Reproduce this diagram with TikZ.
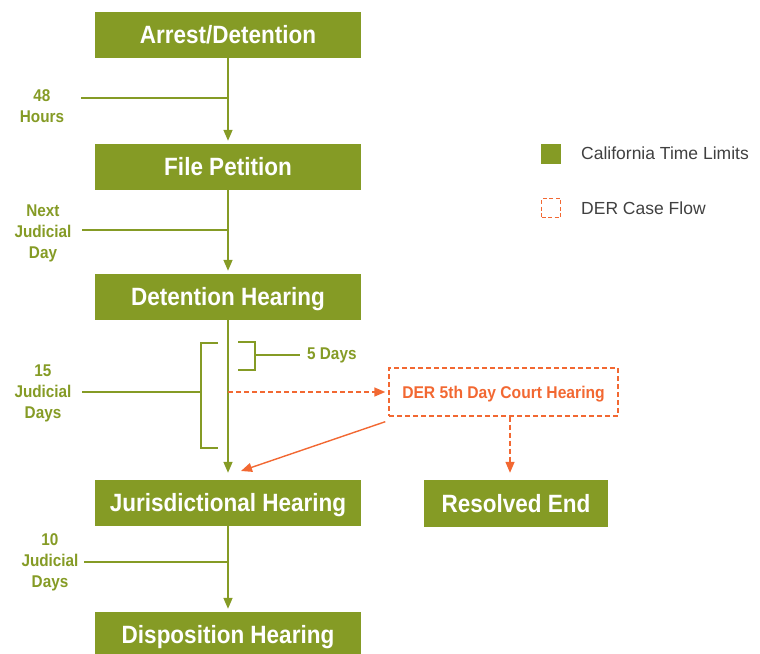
\documentclass[tikz,border=0pt]{standalone}
\usepackage{fontspec}
\setmainfont{Liberation Sans}
\newfontfamily\cnda{Liberation Sans}[FakeStretch=0.9]
\newfontfamily\cndb{Liberation Sans}[FakeStretch=0.92]
\usetikzlibrary{arrows.meta,calc}
\definecolor{dgreen}{RGB}{133,155,37}
\definecolor{dorange}{RGB}{242,104,50}
\definecolor{dgray}{RGB}{64,64,64}
\tikzset{
  gbox/.style={fill=dgreen, text=white, font=\cnda\bfseries\fontsize{25}{28}\selectfont, minimum width=266pt, minimum height=46pt, inner sep=0pt, text height=17.5pt, text depth=0pt},
  gline/.style={draw=dgreen, line width=1.5pt},
  garrow/.style={gline, -{Triangle[width=9pt,length=11pt]}},
  tlabel/.style={text=dgreen, font=\cnda\bfseries\fontsize{17}{21}\selectfont, align=center, inner sep=0pt},
  derbox/.style={draw=dorange, dash pattern=on 5pt off 3pt, line width=1.4pt, text=dorange, font=\cndb\bfseries\fontsize{17}{20}\selectfont, minimum width=229pt, minimum height=48pt, inner sep=0pt, text height=12pt, text depth=0pt},
  oarrow/.style={draw=dorange, line width=1.4pt, -{Triangle[width=9pt,length=11pt]}},
  odarrow/.style={oarrow, dash pattern=on 5pt off 3pt},
  legtext/.style={text=dgray, font=\fontsize{17.5}{20}\selectfont, anchor=west, inner sep=0pt}
}
\begin{document}
\begin{tikzpicture}[x=1pt,y=-1pt]
\useasboundingbox (0,0) rectangle (760,653);
\clip (0,0) rectangle (760,653);
% main boxes
\node[gbox] (arrest) at (228,35) {Arrest/Detention};
\node[gbox] (file) at (228,167) {File Petition};
\node[gbox] (det) at (228,297) {Detention Hearing};
\node[gbox] (jur) at (228,503) {Jurisdictional Hearing};
\node[gbox] (disp) at (228,635) {Disposition Hearing};
\node[gbox, minimum width=184pt, minimum height=47pt] (res) at (516,503.5) {Resolved End};
\node[derbox] (der) at (503.5,392) {DER 5th Day Court Hearing};
% main flow
\draw[garrow, shorten >=3pt] (arrest) -- (file);
\draw[garrow, shorten >=3pt] (file) -- (det);
\draw[garrow, shorten >=7pt] (det) -- (jur);
\draw[garrow, shorten >=3pt] (jur) -- (disp);
% time labels
\node[tlabel] (l48) at (42,106) {48\\Hours};
\coordinate (c48) at (81,98);
\draw[gline] (c48) -- (c48 -| arrest.south);
\node[tlabel] (lnext) at (43,233) {Next\\Judicial\\Day};
\coordinate (cnext) at (82,230);
\draw[gline] (cnext) -- (cnext -| file.south);
\node[tlabel] (l15) at (43,393) {15\\Judicial\\Days};
\coordinate (c15) at (82,392);
\coordinate (b15a) at (218,343);
\coordinate (b15b) at (201,343);
\coordinate (b15c) at (201,448);
\coordinate (b15d) at (218,448);
\draw[gline] (b15a) -- (b15b) -- (b15c) -- (b15d);
\draw[gline] (c15) -- (c15 -| b15b);
\node[tlabel, anchor=west] (l5) at (307,355) {5 Days};
\coordinate (b5a) at (238,342);
\coordinate (b5b) at (255,342);
\coordinate (b5c) at (255,370);
\coordinate (b5d) at (238,370);
\draw[gline] (b5a) -- (b5b) -- (b5c) -- (b5d);
\draw[gline] (b5b |- l5.west) -- ([xshift=-7pt]l5.west);
\node[tlabel] (l10) at (50,562) {10\\Judicial\\Days};
\coordinate (c10) at (84,562);
\draw[gline] (c10) -- (c10 -| jur.south);
% DER flow
\coordinate (dstart) at (228,392);
\draw[odarrow, shorten >=3pt] (dstart) -- (der.west);
\coordinate (dback) at ([shift={(-3,5)}]der.south west);
\coordinate (dend) at (241,471);
\draw[oarrow] (dback) -- (dend);
\coordinate (dres) at ([xshift=6.5pt]der.south);
\draw[odarrow, shorten >=7pt] (dres) -- (dres |- res.north);
% legend
\node[fill=dgreen, minimum size=20pt, inner sep=0pt] (leg1) at (551,153.5) {};
\node[draw=dorange, dash pattern=on 4pt off 2.5pt, line width=1.2pt, minimum size=19pt, inner sep=0pt] (leg2) at (551,208) {};
\node[legtext] (leg1t) at (581,153) {California Time Limits};
\node[legtext] (leg2t) at (581,208) {DER Case Flow};
\end{tikzpicture}
\end{document}
